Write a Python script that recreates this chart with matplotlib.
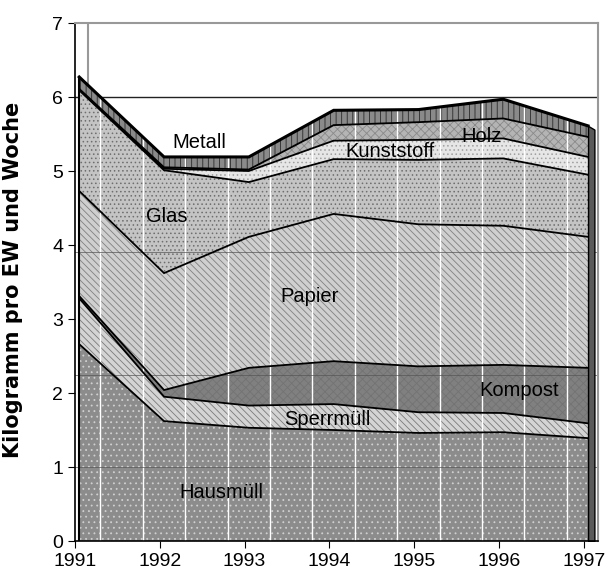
import numpy as np
import matplotlib
matplotlib.use("Agg")
import matplotlib.pyplot as plt

plt.rcParams['font.family'] = ['Liberation Sans', 'DejaVu Sans']
plt.rcParams['hatch.linewidth'] = 0.6

# Jahre und Mengen (kg pro EW und Woche), gestapelt von unten nach oben
years = [1991, 1992, 1993, 1994, 1995, 1996, 1997]
hausmuell  = [2.66, 1.62, 1.53, 1.50, 1.46, 1.47, 1.39]
sperrmuell = [0.62, 0.33, 0.30, 0.35, 0.28, 0.26, 0.20]
kompost    = [0.03, 0.09, 0.51, 0.58, 0.62, 0.65, 0.75]
papier     = [1.42, 1.58, 1.77, 1.99, 1.92, 1.88, 1.77]
glas       = [1.36, 1.39, 0.74, 0.74, 0.87, 0.91, 0.84]
kunststoff = [0.01, 0.02, 0.15, 0.25, 0.27, 0.27, 0.24]
holz       = [0.01, 0.02, 0.02, 0.21, 0.24, 0.27, 0.27]
metall     = [0.16, 0.14, 0.17, 0.20, 0.17, 0.26, 0.15]

names = ['Hausmüll', 'Sperrmüll', 'Kompost', 'Papier', 'Glas',
         'Kunststoff', 'Holz', 'Metall']
series = [hausmuell, sperrmuell, kompost, papier, glas, kunststoff, holz, metall]

# (Fuellfarbe, Schraffur, Schraffurfarbe)
styles = [
    ('#8c8c8c', '...', '#d0d0d0'),
    ('#d4d4d4', '\\\\\\\\\\', '#7a7a7a'),
    ('#808080', 'xxxx', '#737373'),
    ('#cfcfcf', '\\\\\\\\\\', '#808080'),
    ('#c4c4c4', '....', '#6e6e6e'),
    ('#e6e6e6', '....', '#a0a0a0'),
    ('#b4b4b4', 'xxxx', '#8a8a8a'),
    ('#8a8a8a', '|||', '#2a2a2a'),
]

# label positions (x in years, y in kg)
label_pos = [(1992.73, 0.66), (1993.98, 1.64), (1996.24, 2.04), (1993.77, 3.31),
             (1992.08, 4.38), (1994.71, 5.27), (1995.79, 5.47), (1992.47, 5.39)]

shift = 0.05   # Tiefenversatz der 3D-Darstellung
x = np.array(years) + shift

fig = plt.figure(figsize=(6.08, 5.79), dpi=100)
ax = fig.add_axes([75 / 608, 38 / 579, 523 / 608, 518 / 579])

ax.set_xlim(1991, 1991 + 523 / 84.8)
ax.set_ylim(0, 7)

# Rueckwand: Gitterlinie und Kante
ax.axhline(6, color='#222222', lw=1, zorder=0)
ax.axvline(1991 + 0.155, color='#999999', lw=1.5, zorder=0)

data = np.array(series)
cum = np.cumsum(data, axis=0)
bottom = np.zeros(len(years))
for i, (vals, st) in enumerate(zip(cum, styles)):
    fc, hatch, hc = st
    ax.fill_between(x, bottom, vals, facecolor=fc, edgecolor='none', lw=0, zorder=1)
    ax.fill_between(x, bottom, vals, facecolor='none', edgecolor=hc, hatch=hatch,
                    lw=0, zorder=1.1)
    bottom = vals

# white depth lines
for yr in years[:-1]:
    for d in (0.3, 0.8):
        ax.plot([yr + d, yr + d], [0, np.interp(yr + d, x, cum[-1])],
                color='white', lw=1, zorder=1.5)

# helle Gitterlinien durch die Flaechen
for gy in (1, 2.24, 3.9):
    ax.axhline(gy, color='#555555', lw=0.7, alpha=0.7, zorder=1.6)

for i, vals in enumerate(cum):
    ax.plot(x, vals, color='black', lw=2.2 if i == len(cum) - 1 else 1.3,
            zorder=2, solid_joinstyle='miter')

# seitliche Kante rechts und links
ax.fill_between([x[-1], x[-1] + 0.075], 0, [cum[-1][-1], cum[-1][-1] - 0.05],
                facecolor='#5a5a5a', edgecolor='black', lw=1, zorder=2.5)
ax.plot([x[0], x[0]], [0, cum[-1][0]], color='black', lw=1.5, zorder=2.5)

for name, (lx, ly) in zip(names, label_pos):
    ax.text(lx, ly, name, ha='center', va='center', fontsize=14.5, zorder=3)

ax.set_xticks(years)
ax.set_yticks(range(0, 8))
ax.tick_params(labelsize=14, length=5, color='black')
ax.set_ylabel('Kilogramm pro EW und Woche', fontsize=15, fontweight='bold',
              family='DejaVu Sans')
ax.yaxis.set_label_coords(-0.099, 0.504)

for s in ('top', 'right'):
    ax.spines[s].set_color('#999999')
    ax.spines[s].set_linewidth(1.5)
ax.spines['left'].set_linewidth(1.2)
ax.spines['bottom'].set_linewidth(1.2)

fig.savefig('out.png', dpi=100)
